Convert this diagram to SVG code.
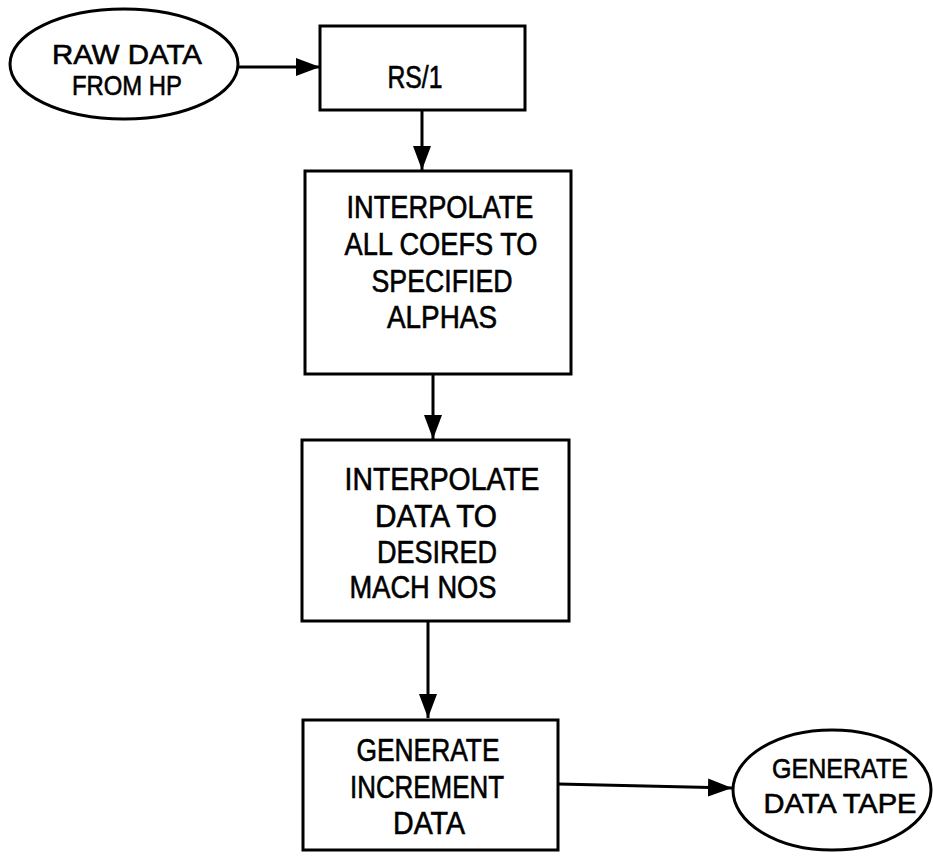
<svg xmlns="http://www.w3.org/2000/svg" width="933" height="856" viewBox="0 0 933 856">
<style>
  .shape { fill: #fff; stroke: #000; stroke-width: 3; }
  .conn { fill: none; stroke: #000; stroke-width: 3; }
  text { font-family: "Liberation Sans", Arial, Helvetica, sans-serif; font-size: 31px; fill: #000; stroke: #000; stroke-width: 0.6; text-anchor: middle; }
  .small { font-size: 28px; }
</style>
<defs>
  <marker id="arrow" markerUnits="userSpaceOnUse" markerWidth="25" markerHeight="20" refX="24" refY="10" orient="auto">
    <path d="M0,1 L24,10 L0,19 z" fill="#000"/>
  </marker>
</defs>
<rect width="933" height="856" fill="#fff"/>

<g id="connectors">
  <line class="conn" x1="238" y1="67" x2="320" y2="67" marker-end="url(#arrow)"/>
  <line class="conn" x1="422" y1="110" x2="422" y2="170" marker-end="url(#arrow)"/>
  <line class="conn" x1="433" y1="374" x2="433" y2="439" marker-end="url(#arrow)"/>
  <line class="conn" x1="428" y1="622" x2="428" y2="718" marker-end="url(#arrow)"/>
  <line class="conn" x1="558" y1="784" x2="732" y2="788" marker-end="url(#arrow)"/>
</g>

<g id="raw-data">
  <ellipse class="shape" cx="124" cy="64" rx="114" ry="55"/>
  <text class="small" x="127" y="64" textLength="150" lengthAdjust="spacingAndGlyphs">RAW DATA</text>
  <text class="small" x="127" y="95" textLength="110" lengthAdjust="spacingAndGlyphs">FROM HP</text>
</g>

<g id="rs1">
  <rect class="shape" x="320" y="26" width="205" height="84"/>
  <text x="415" y="88" textLength="55" lengthAdjust="spacingAndGlyphs">RS/1</text>
</g>

<g id="interp-alphas">
  <rect class="shape" x="305" y="171" width="266" height="203"/>
  <text x="440" y="218" textLength="187" lengthAdjust="spacingAndGlyphs">INTERPOLATE</text>
  <text x="441" y="255" textLength="193" lengthAdjust="spacingAndGlyphs">ALL COEFS TO</text>
  <text x="442" y="292" textLength="141" lengthAdjust="spacingAndGlyphs">SPECIFIED</text>
  <text x="442" y="328" textLength="110" lengthAdjust="spacingAndGlyphs">ALPHAS</text>
</g>

<g id="interp-mach">
  <rect class="shape" x="302" y="440" width="267" height="181"/>
  <text x="442" y="490" textLength="195" lengthAdjust="spacingAndGlyphs">INTERPOLATE</text>
  <text x="436" y="527" textLength="122" lengthAdjust="spacingAndGlyphs">DATA TO</text>
  <text x="437" y="563" textLength="120" lengthAdjust="spacingAndGlyphs">DESIRED</text>
  <text x="423" y="598" textLength="147" lengthAdjust="spacingAndGlyphs">MACH NOS</text>
</g>

<g id="gen-increment">
  <rect class="shape" x="303" y="720" width="255" height="130"/>
  <text x="428" y="761" textLength="143" lengthAdjust="spacingAndGlyphs">GENERATE</text>
  <text x="427" y="798" textLength="154" lengthAdjust="spacingAndGlyphs">INCREMENT</text>
  <text x="429" y="834" textLength="72" lengthAdjust="spacingAndGlyphs">DATA</text>
</g>

<g id="gen-tape">
  <ellipse class="shape" cx="832" cy="790" rx="99" ry="60"/>
  <text class="small" x="840" y="778" textLength="136" lengthAdjust="spacingAndGlyphs">GENERATE</text>
  <text class="small" x="840" y="813" textLength="153" lengthAdjust="spacingAndGlyphs">DATA TAPE</text>
</g>
</svg>
